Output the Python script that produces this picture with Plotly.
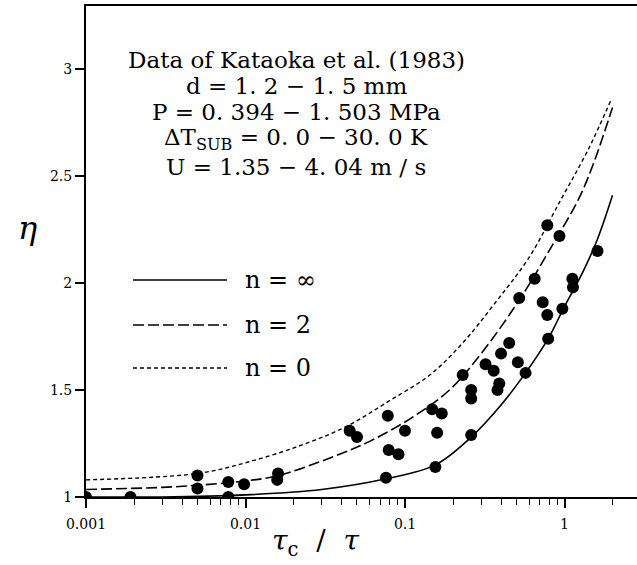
import plotly.graph_objects as go

# ---- data ----
# measured points (tau_c/tau, eta)
pts_x = [0.001, 0.0019, 0.005, 0.005, 0.0078, 0.0078, 0.0098, 0.0158, 0.016,
         0.045, 0.050, 0.076, 0.078, 0.079, 0.091, 0.100, 0.148, 0.155, 0.159, 0.170,
         0.23, 0.26, 0.26, 0.26, 0.32, 0.36, 0.38, 0.39, 0.40, 0.45, 0.51, 0.52,
         0.57, 0.65, 0.73, 0.78, 0.78, 0.79, 0.93, 0.97, 1.12, 1.13, 1.61]
pts_y = [1.00, 1.00, 1.10, 1.04, 1.07, 1.00, 1.06, 1.08, 1.11,
         1.31, 1.28, 1.09, 1.38, 1.22, 1.20, 1.31, 1.41, 1.14, 1.30, 1.39,
         1.57, 1.50, 1.46, 1.29, 1.62, 1.59, 1.50, 1.53, 1.67, 1.72, 1.63, 1.93,
         1.58, 2.02, 1.91, 1.85, 2.27, 1.74, 2.22, 1.88, 2.02, 1.98, 2.15]

# model curves
inf_x = [0.001, 0.003, 0.01, 0.03, 0.076, 0.155, 0.26, 0.4, 0.57, 0.79, 1.0, 1.3, 1.6, 2.0]
inf_y = [1.0, 1.0, 1.01, 1.035, 1.085, 1.15, 1.28, 1.43, 1.58, 1.74, 1.89, 2.05, 2.2, 2.41]

n2_x = [0.001, 0.003, 0.005, 0.01, 0.016, 0.036, 0.06, 0.11, 0.19, 0.3, 0.52, 0.8, 1.24, 1.54, 2.0]
n2_y = [1.035, 1.045, 1.055, 1.075, 1.10, 1.19, 1.26, 1.37, 1.50, 1.67, 1.92, 2.15, 2.40, 2.57, 2.82]

n0_x = [0.001, 0.005, 0.01, 0.022, 0.043, 0.08, 0.143, 0.23, 0.37, 0.6, 0.95, 1.4, 1.97]
n0_y = [1.08, 1.11, 1.16, 1.24, 1.33, 1.45, 1.57, 1.72, 1.91, 2.12, 2.39, 2.62, 2.86]

x_tickvals = [0.001, 0.01, 0.1, 1]
x_ticktext = ["0.001", "0.01", "0.1", "1"]
y_tickvals = [1, 1.5, 2, 2.5, 3]
y_ticktext = ["1", "1.5", "2", "2.5", "3"]

info_lines = ["Data of Kataoka et al. (1983)",
              "d = 1. 2 \u2212 1. 5 mm",
              "P = 0. 394 \u2212 1. 503 MPa",
              "\u0394T<sub>SUB</sub> = 0. 0 \u2212 30. 0 K",
              "U = 1.35 \u2212 4. 04 m / s"]
legend_labels = ["n = \u221e", "n = 2", "n = 0"]

# ---- layout geometry (pixels) ----
W, H = 637, 565
L, R, T, B = 86, 0, 6, 68
pw, ph = W - L - R, H - T - B

def px(x):
    return (x - L) / pw

def py(y):
    return (H - B - y) / ph

SERIF = "DejaVu Serif"

fig = go.Figure()

styles = [dict(color="black", width=1.6),
          dict(color="black", width=1.6, dash="11px,4px"),
          dict(color="black", width=1.4, dash="4px,3px")]

for cx, cy, st in [(inf_x, inf_y, styles[0]), (n2_x, n2_y, styles[1]), (n0_x, n0_y, styles[2])]:
    fig.add_trace(go.Scatter(x=cx, y=cy, mode="lines", line=dict(shape="spline", smoothing=1.0, **st),
                             showlegend=False, hoverinfo="skip"))

fig.add_trace(go.Scatter(x=pts_x, y=pts_y, mode="markers",
                         marker=dict(size=12, color="black", line=dict(width=0)),
                         showlegend=False))

minor_vals = [m * 10 ** e for e in (-3, -2, -1, 0) for m in range(2, 10)]

fig.update_layout(
    width=W, height=H,
    margin=dict(l=L, r=R, t=T, b=B),
    paper_bgcolor="white", plot_bgcolor="white",
    xaxis=dict(type="log", range=[-3, -3 + pw / 159.5],
               tickvals=x_tickvals, ticktext=x_ticktext,
               ticks="outside", ticklen=9, tickwidth=1.5, tickcolor="black",
               minor=dict(tickvals=minor_vals, ticks="outside", ticklen=6, tickwidth=1.2, tickcolor="black"),
               showline=True, linecolor="black", linewidth=2, mirror=True,
               showgrid=False, zeroline=False, ticklabelstandoff=4,
               tickfont=dict(family=SERIF, size=14, color="black")),
    yaxis=dict(range=[1, 1 + ph / 214.0],
               tickvals=y_tickvals, ticktext=y_ticktext,
               ticks="outside", ticklen=9, tickwidth=1.5, tickcolor="black",
               showline=True, linecolor="black", linewidth=2,
               showgrid=False, zeroline=False,
               tickfont=dict(family=SERIF, size=14, color="black")),
)

annotations = []
# info block
line_y = [60, 86, 112, 139, 167]
for txt, yy in zip(info_lines, line_y):
    annotations.append(dict(x=px(296), y=py(yy), xref="paper", yref="paper", text=txt,
                            showarrow=False, xanchor="center", yanchor="middle",
                            font=dict(family=SERIF, size=23, color="black")))
# legend
leg_y = [280, 325, 368]
shapes = []
for (lbl, yy, st) in zip(legend_labels, leg_y, styles):
    shapes.append(dict(type="line", xref="paper", yref="paper",
                       x0=px(133), x1=px(227), y0=py(yy), y1=py(yy),
                       line=dict(color="black", width=st["width"], dash=st.get("dash", "solid"))))
    annotations.append(dict(x=px(243), y=py(yy), xref="paper", yref="paper", text=lbl,
                            showarrow=False, xanchor="left", yanchor="middle",
                            font=dict(family=SERIF, size=24, color="black")))
# axis titles
annotations.append(dict(x=px(27), y=py(228), xref="paper", yref="paper", text="<i>\u03b7</i>",
                        showarrow=False, xanchor="center", yanchor="middle",
                        font=dict(family=SERIF, size=32, color="black")))
annotations.append(dict(x=px(316), y=py(542), xref="paper", yref="paper",
                        text="<i>\u03c4</i><sub>c</sub>\u00a0 /\u00a0 <i>\u03c4</i>",
                        showarrow=False, xanchor="center", yanchor="middle",
                        font=dict(family=SERIF, size=28, color="black")))

fig.update_layout(annotations=annotations, shapes=shapes)

fig.write_html("out.html")
